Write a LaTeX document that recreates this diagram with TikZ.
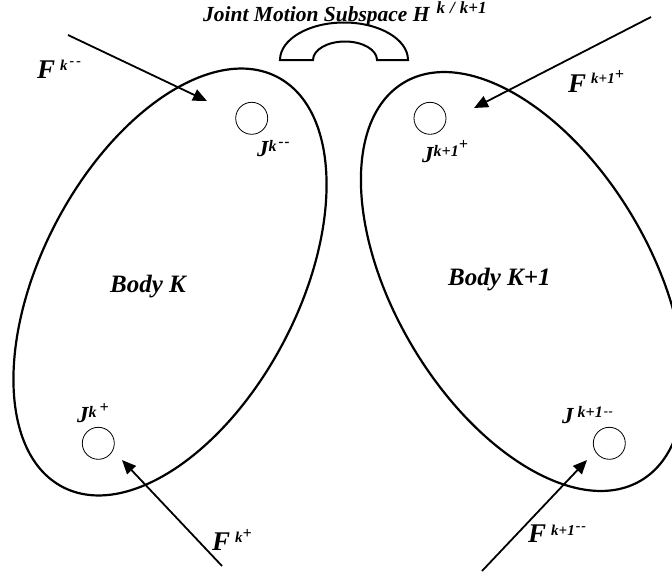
\documentclass[tikz,border=0pt]{standalone}
\usepackage{fontspec}
\setmainfont{Liberation Serif}
\usetikzlibrary{arrows.meta}
\newcommand\rs[3]{\raisebox{#1pt}{\fontsize{#2}{#2}\selectfont #3}}
\begin{document}
\begin{tikzpicture}[x=1pt,y=-1pt,
  body/.style={line width=2.2pt},
  joint/.style={circle,draw,line width=0.8pt,minimum size=32pt,inner sep=0pt},
  force/.style={line width=1.8pt,-{Triangle[length=14pt,width=12pt]}},
  arch/.style={line width=2pt},
  lbl/.style={anchor=base west,inner sep=0pt,font=\bfseries\itshape},
]
\useasboundingbox (0,0) rectangle (672,573);
\clip (0,0) rectangle (672,573);

% bodies
\draw[body, rotate around={62.3:(170,282)}] (170,282) ellipse [x radius=231.4pt, y radius=128.5pt];
\draw[body, rotate around={120.8:(522.5,281.5)}] (522.5,281.5) ellipse [x radius=231.6pt, y radius=127.8pt];

% joint motion subspace symbol
\draw[arch] (280,60) arc[start angle=180, end angle=0, x radius=64pt, y radius=37.5pt]
  -- (377,60) arc[start angle=0, end angle=180, x radius=32pt, y radius=18.5pt] -- cycle;

% joints
\node[joint] (jkm) at (251.7,118.3) {};
\node[joint] (jk1p) at (430,118.3) {};
\node[joint] (jkp) at (98.3,443.3) {};
\node[joint] (jk1m) at (609.3,443.3) {};

% force arrows
\coordinate (fkmA) at (68,35);   \coordinate (fkmB) at (207,101);
\coordinate (fk1pA) at (651,17); \coordinate (fk1pB) at (474,108);
\coordinate (fkpA) at (222,566); \coordinate (fkpB) at (122,460);
\coordinate (fk1mA) at (482,571);\coordinate (fk1mB) at (587,460);
\draw[force] (fkmA) -- (fkmB);
\draw[force] (fk1pA) -- (fk1pB);
\draw[force] (fkpA) -- (fkpB);
\draw[force] (fk1mA) -- (fk1mB);

% labels
\node[lbl] (title) at (203,21.5) {\fontsize{21.5}{21.5}\selectfont Joint Motion Subspace H\kern7pt\rs{8}{17}{k\kern5pt/\kern5pt k+1}};
\node[lbl] (bk) at (110,292) {\fontsize{25}{25}\selectfont Body K};
\node[lbl] (bk1) at (448,285) {\fontsize{25}{25}\selectfont Body K+1};

\node[lbl] (Fkm) at (37,78) {\fontsize{27}{27}\selectfont F\kern5pt\rs{8}{15}{k}\rs{13}{14}{\kern2pt-\kern2pt-}};
\node[lbl] (Fk1p) at (568,92) {\fontsize{27}{27}\selectfont F\kern5pt\rs{9}{15}{k+1}\rs{13}{16}{+}};
\node[lbl] (Fkp) at (212,550) {\fontsize{27}{27}\selectfont F\kern5pt\rs{8}{15}{k}\rs{12}{16}{+}};
\node[lbl] (Fk1m) at (528,542) {\fontsize{27}{27}\selectfont F\kern5pt\rs{7}{15}{k+1}\rs{12}{14}{\kern1pt-\kern1pt-}};

\node[lbl] (Jkm) at (257,156) {\fontsize{23}{23}\selectfont J\rs{5}{16}{k}\rs{10}{15}{\kern2pt-\kern1pt-}};
\node[lbl] (Jk1p) at (422,162) {\fontsize{23}{23}\selectfont J\rs{6}{16}{k+1}\rs{13}{16}{+}};
\node[lbl] (Jkp) at (77,422) {\fontsize{23}{23}\selectfont J\rs{5}{16}{k}\kern3pt\rs{10}{16}{+}};
\node[lbl] (Jk1m) at (562,423) {\fontsize{23}{23}\selectfont J\kern4pt\rs{6}{16}{k+1}\kern1pt\rs{8}{13}{-\kern0.5pt-}};
\end{tikzpicture}
\end{document}
